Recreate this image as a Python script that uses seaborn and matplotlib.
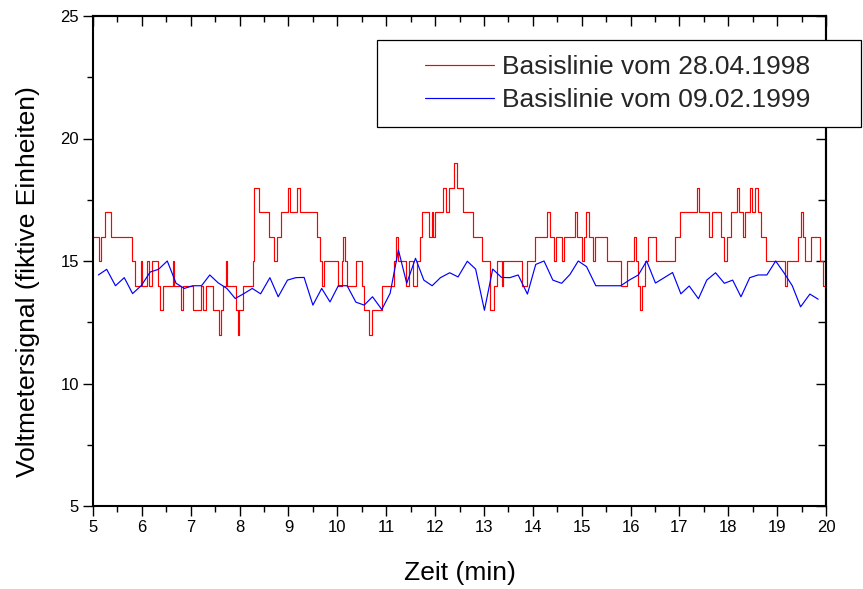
import numpy as np
import pandas as pd
import matplotlib
matplotlib.use("Agg")
import matplotlib.pyplot as plt
import seaborn as sns
from matplotlib.patches import Rectangle
from matplotlib.ticker import NullFormatter

# ---- data: red series (change points, step values) ----
red_t = [5.00, 5.12, 5.16, 5.25, 5.36, 5.80, 5.85, 5.98, 6.01, 6.11, 6.15, 6.21, 6.32, 6.38, 6.44,
         6.63, 6.66, 6.80, 6.84, 7.05, 7.22, 7.26, 7.31, 7.46, 7.58, 7.62, 7.67, 7.72, 7.75, 7.92,
         7.96, 7.99, 8.06, 8.27, 8.30, 8.40, 8.60, 8.71, 8.76, 8.85, 9.00, 9.03, 9.17, 9.24, 9.58,
         9.64, 9.69, 9.72, 10.02, 10.09, 10.12, 10.15, 10.20, 10.38, 10.51, 10.55, 10.65, 10.70,
         10.92, 11.16, 11.20, 11.24, 11.40, 11.47, 11.55, 11.64, 11.70, 11.74, 11.88, 11.93, 11.96,
         12.00, 12.17, 12.22, 12.28, 12.39, 12.45, 12.58, 12.78, 12.97, 13.12, 13.21, 13.26, 13.36,
         13.39, 13.78, 13.89, 14.04, 14.30, 14.35, 14.43, 14.47, 14.59, 14.64, 14.86, 14.90, 15.00,
         15.05, 15.09, 15.14, 15.24, 15.27, 15.52, 15.81, 15.92, 16.07, 16.11, 16.16, 16.19, 16.23,
         16.30, 16.36, 16.52, 16.91, 17.01, 17.36, 17.40, 17.60, 17.67, 17.86, 17.92, 17.97, 18.05,
         18.18, 18.22, 18.31, 18.34, 18.44, 18.48, 18.55, 18.61, 18.68, 18.78, 19.16, 19.21, 19.42,
         19.49, 19.52, 19.58, 19.69, 19.88, 19.94, 20.00]
red_v = [16, 15, 16, 17, 16, 15, 14, 15, 14, 15, 14, 15, 14, 13, 14,
         15, 14, 13, 14, 13, 14, 13, 14, 13, 12, 13, 14, 15, 14, 13,
         12, 13, 14, 15, 18, 17, 16, 15, 16, 17, 18, 17, 18, 17, 16,
         15, 14, 15, 14, 15, 16, 15, 14, 15, 14, 13, 12, 13,
         14, 15, 16, 15, 14, 15, 14, 15, 16, 17, 16, 17, 16,
         17, 18, 17, 18, 19, 18, 17, 16, 15, 13, 14, 15, 14,
         15, 14, 15, 16, 17, 16, 15, 16, 15, 16, 17, 16, 15,
         16, 17, 16, 15, 16, 15, 14, 15, 16, 15, 14, 13, 14,
         15, 16, 15, 16, 17, 18, 17, 16, 17, 16, 15, 16, 17,
         18, 17, 16, 17, 18, 17, 18, 17, 16, 15, 14, 15, 16,
         17, 16, 15, 16, 15, 14, 14]

# ---- data: blue series ----
blue_t = [5.11, 5.28, 5.46, 5.64, 5.81, 5.99, 6.17, 6.34, 6.52, 6.70, 6.87, 7.04, 7.22, 7.39, 7.56,
          7.74, 7.91, 8.08, 8.26, 8.43, 8.62, 8.79, 8.98, 9.15, 9.32, 9.50, 9.68, 9.85, 10.02, 10.20,
          10.38, 10.55, 10.72, 10.91, 11.08, 11.25, 11.42, 11.60, 11.77, 11.94, 12.11, 12.30, 12.47,
          12.66, 12.83, 13.01, 13.18, 13.36, 13.53, 13.70, 13.89, 14.06, 14.23, 14.41, 14.59, 14.76,
          14.93, 15.10, 15.29, 15.46, 15.63, 15.80, 15.99, 16.16, 16.33, 16.51, 16.69, 16.86, 17.03,
          17.20, 17.39, 17.56, 17.74, 17.92, 18.09, 18.26, 18.44, 18.61, 18.79, 18.97, 19.14, 19.31,
          19.48, 19.67, 19.84]
blue_v = [14.43, 14.66, 13.99, 14.32, 13.67, 14.00, 14.55, 14.66, 15.00, 14.09, 13.88, 13.99, 13.99,
          14.43, 14.11, 13.88, 13.47, 13.66, 13.88, 13.66, 14.32, 13.54, 14.22, 14.32, 14.33, 13.20,
          13.88, 13.33, 13.99, 13.99, 13.32, 13.20, 13.54, 13.02, 13.68, 15.45, 14.09, 15.11, 14.22,
          13.99, 14.32, 14.52, 14.35, 14.99, 14.67, 12.99, 14.67, 14.33, 14.32, 14.43, 13.65, 14.86,
          15.00, 14.22, 14.09, 14.45, 15.00, 14.77, 13.99, 13.99, 13.99, 13.99, 14.24, 14.43, 15.00,
          14.10, 14.32, 14.53, 13.66, 13.98, 13.46, 14.22, 14.52, 14.09, 14.22, 13.54, 14.32, 14.43,
          14.43, 15.00, 14.52, 13.99, 13.13, 13.65, 13.44]

x_ticks = list(range(5, 21))
y_ticks = [5, 10, 15, 20, 25]
series_labels = ["Basislinie vom 28.04.1998", "Basislinie vom 09.02.1999"]
x_label = "Zeit (min)"
y_label = "Voltmetersignal (fiktive Einheiten)"

sns.set_theme(style="white")
plt.rcParams["font.family"] = ["Liberation Sans", "DejaVu Sans"]

W, H = 863, 589
fig = plt.figure(figsize=(W / 100, H / 100), dpi=100)
ax = fig.add_axes([93 / W, 1 - 506 / H, (826 - 93) / W, (506 - 16) / H])

df_red = pd.DataFrame({"t": red_t, "v": red_v})
df_blue = pd.DataFrame({"t": blue_t, "v": blue_v})
sns.lineplot(data=df_red, x="t", y="v", ax=ax, color="#ff0000", linewidth=0.85,
             drawstyle="steps-post", estimator=None, sort=False, label=series_labels[0])
sns.lineplot(data=df_blue, x="t", y="v", ax=ax, color="#0000ff", linewidth=0.85,
             estimator=None, sort=False, label=series_labels[1])

ax.set_xlim(5, 20)
ax.set_ylim(5, 25)
ax.set_xticks(x_ticks)
ax.set_xticks(np.arange(5.5, 20, 1), minor=True)
ax.set_yticks(y_ticks)
ax.set_yticks([7.5, 12.5, 17.5, 22.5], minor=True)
ax.tick_params(bottom=True, left=True, top=False, right=False, which="both")
ax.tick_params(which="major", direction="out", length=7, width=1.0, color="black",
               labelsize=12, pad=3, labelcolor="black")
ax.tick_params(which="minor", direction="out", length=4, width=1.0, color="black")

for s in ax.spines.values():
    s.set_linewidth(1.5)
    s.set_color("black")
    s.set_visible(True)

top = ax.secondary_xaxis("top")
top.set_xticks(x_ticks)
top.set_xticks(np.arange(5.5, 20, 1), minor=True)
top.xaxis.set_major_formatter(NullFormatter())
top.tick_params(which="major", direction="in", length=7, width=1.0, color="black", top=True)
top.tick_params(which="minor", direction="in", length=4, width=1.0, color="black", top=True)
top.spines["top"].set_linewidth(1.5)

right = ax.secondary_yaxis("right")
right.set_yticks(y_ticks)
right.set_yticks([7.5, 12.5, 17.5, 22.5], minor=True)
right.yaxis.set_major_formatter(NullFormatter())
right.tick_params(which="major", direction="in", length=7, width=1.0, color="black", right=True)
right.tick_params(which="minor", direction="in", length=6, width=1.0, color="black", right=True)
right.spines["right"].set_linewidth(1.5)

ax.set_xlabel(x_label, fontsize=19, color="black")
ax.set_ylabel(y_label, fontsize=19, color="black")
ax.xaxis.set_label_coords((460 - 93) / 733, (506 - 561) / 490)
ax.yaxis.set_label_coords((40 - 93) / 733, (506 - 282) / 490)

handles, labs = ax.get_legend_handles_labels()
if ax.get_legend() is not None:
    ax.get_legend().remove()

fig.patches.append(Rectangle((377 / W, 1 - 127 / H), (861 - 377) / W, (127 - 40) / H,
                             transform=fig.transFigure, facecolor="white",
                             edgecolor="black", linewidth=0.9, zorder=3))
leg = fig.legend(handles, labs, loc="upper left", bbox_to_anchor=(425 / W, 1 - 55 / H),
                 bbox_transform=fig.transFigure, frameon=False, borderpad=0,
                 borderaxespad=0, handlelength=2.6, handletextpad=0.3,
                 labelspacing=0.34, fontsize=19)
leg.set_zorder(5)

fig.savefig("out.png", dpi=100)
